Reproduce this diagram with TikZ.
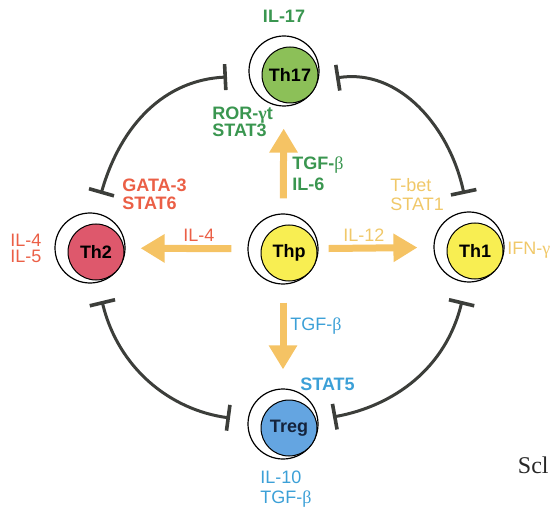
\documentclass[tikz,border=0pt]{standalone}
\usepackage{fontspec}
\setmainfont{Liberation Sans}
\newfontfamily\grk{Liberation Serif}
\usetikzlibrary{arrows.meta}
\definecolor{lgreen}{RGB}{58,150,80}
\definecolor{th17fill}{RGB}{140,192,88}
\definecolor{lred}{RGB}{235,95,70}
\definecolor{th2fill}{RGB}{222,88,108}
\definecolor{yfill}{RGB}{248,238,82}
\definecolor{lyellow}{RGB}{240,200,105}
\definecolor{arrowc}{RGB}{245,195,100}
\definecolor{lblue}{RGB}{60,160,215}
\definecolor{tregfill}{RGB}{100,165,225}
\definecolor{arcc}{RGB}{60,62,58}
\definecolor{tregtext}{RGB}{20,35,60}
\begin{document}
\begin{tikzpicture}[x=0.5pt,y=-0.5pt,
  outer/.style={circle, draw=black, line width=0.6pt, fill=white, minimum size=35pt, inner sep=0pt},
  cell/.style={circle, draw=black, line width=0.5pt, minimum size=28pt, inner sep=0pt, font=\fontsize{9}{10}\selectfont\bfseries},
  fat/.style={line width=3.5pt, draw=arrowc, -{Triangle[width=13.5pt,length=12pt]}},
  inhib/.style={line width=1.5pt, draw=arcc, {Bar[width=13pt,line width=1.8pt]}-{Bar[width=13pt,line width=1.8pt]}},
  lab/.style={anchor=base west, inner sep=0pt, font=\fontsize{9}{10}\selectfont},
  blab/.style={lab, font=\fontsize{9}{10}\selectfont\bfseries}
]
\useasboundingbox (0,0) rectangle (550,507);
\clip (0,0) rectangle (550,507);

% inhibition arcs
\coordinate (a1) at (101,194); \coordinate (a2) at (227,77);
\coordinate (b1) at (336,78);  \coordinate (b2) at (464,194);
\coordinate (c1) at (102,301); \coordinate (c2) at (230,418);
\coordinate (d1) at (462,301); \coordinate (d2) at (333,417);
\draw[inhib] (a1) .. controls (121,124) and (165,80) .. (a2);
\draw[inhib] (b1) .. controls (400,68) and (450,128) .. (b2);
\draw[inhib] (c1) .. controls (118,368) and (170,410) .. (c2);
\draw[inhib] (d1) .. controls (446,368) and (394,406) .. (d2);

% cells
\node[outer] (th17o) at (284,71) {};
\node[cell, fill=th17fill] (th17) at (290,75) {Th17};
\node[outer] (th2o) at (90,248) {};
\node[cell, fill=th2fill] (th2) at (96,252) {Th2};
\node[outer] (thpo) at (283,249) {};
\node[cell, fill=yfill] (thp) at (289,253) {Thp};
\node[outer] (th1o) at (469,247) {};
\node[cell, fill=yfill] (th1) at (475,251) {Th1};
\node[outer] (trego) at (283,424) {};
\node[cell, fill=tregfill, text=tregtext] (treg) at (289,428) {Treg};

% differentiation arrows
\draw[fat, shorten <=7.5pt, shorten >=11pt] (thpo) -- (th17o);
\draw[fat, shorten <=9pt, shorten >=9.5pt] (thpo) -- (trego);
\draw[fat, shorten <=8pt, shorten >=7.5pt] (thpo) -- (th2o);
\draw[fat, shorten <=5pt, shorten >=8pt] (thpo) -- (th1o);

% labels
\node[blab, text=lgreen, anchor=base] (l17) at (284,23) {IL-17};
\node[blab, text=lgreen] (lror) at (212,120) {ROR-{\grk γ}t};
\node[blab, text=lgreen] (lstat3) at (212,137) {STAT3};
\node[blab, text=lgreen] (ltgf1) at (292,170) {TGF-{\grk\mdseries β}};
\node[blab, text=lgreen] (lil6) at (292,191) {IL-6};
\node[blab, text=lred] (lgata) at (122,192) {GATA-3};
\node[blab, text=lred] (lstat6) at (122,210) {STAT6};
\node[lab, text=lred] (lil4a) at (10,247) {IL-4};
\node[lab, text=lred] (lil5) at (10,263) {IL-5};
\node[lab, text=lred] (lil4b) at (183,242) {IL-4};
\node[lab, text=lyellow] (lil12) at (343,242) {IL-12};
\node[lab, text=lyellow] (ltbet) at (390,192) {T-bet};
\node[lab, text=lyellow] (lstat1) at (390,211) {STAT1};
\node[lab, text=lyellow] (lifn) at (507,255) {IFN-{\grk γ}};
\node[lab, text=lblue] (ltgf2) at (290,330) {TGF-{\grk β}};
\node[blab, text=lblue] (lstat5) at (300,390) {STAT5};
\node[lab, text=lblue] (lil10) at (260,483) {IL-10};
\node[lab, text=lblue] (ltgf3) at (260,503) {TGF-{\grk β}};
\node[anchor=base east, inner sep=0pt, font=\grk\fontsize{12}{14}\selectfont, text=black!85] (lsch) at (549,473) {Scl};
\end{tikzpicture}
\end{document}
